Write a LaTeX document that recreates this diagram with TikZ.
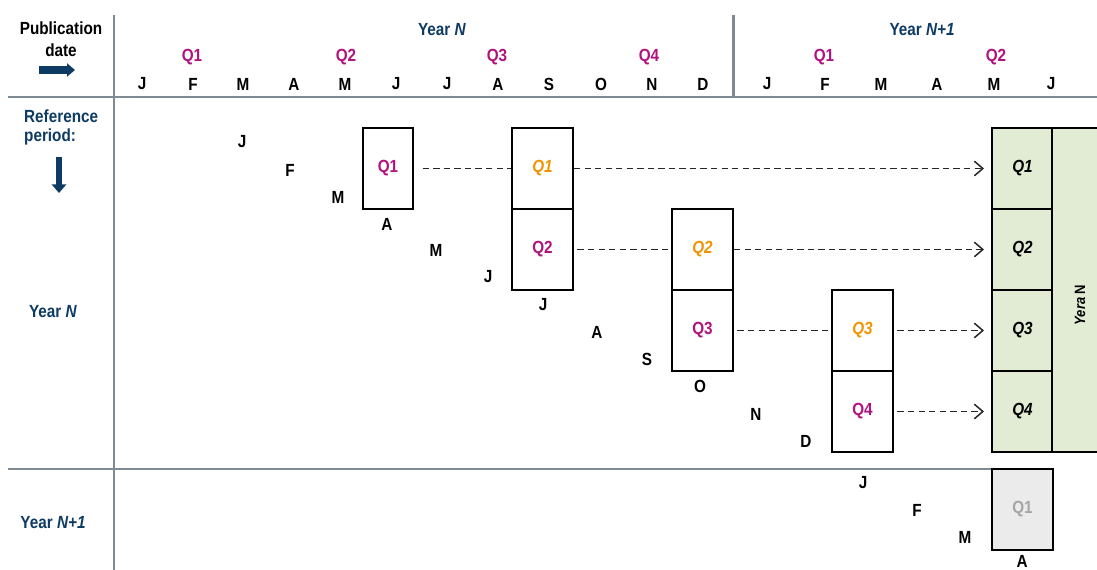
\documentclass[tikz,border=0pt]{standalone}
\usepackage{fontspec}
\setmainfont{Liberation Sans}[FakeStretch=0.87]
\usetikzlibrary{arrows.meta}
\definecolor{navy}{HTML}{0D3B63}
\definecolor{qmag}{HTML}{B0127F}
\definecolor{qorange}{HTML}{F39200}
\definecolor{cellgreen}{HTML}{E2EBD3}
\definecolor{rulegray}{HTML}{7F8A93}
\definecolor{boxgray}{HTML}{EBEBEB}
\definecolor{txtgray}{HTML}{A6A6A6}
\begin{document}
\begin{tikzpicture}[x=0.02cm, y=-0.02cm,
        every node/.style={font=\bfseries\fontsize{10}{12}\selectfont},
        rule/.style={rulegray, line width=1.7pt},
        qbox/.style={draw, line width=1.1pt, inner sep=0pt, minimum width=1.22cm, minimum height=1.62cm},
        gcell/.style={qbox, fill=cellgreen},
        conn/.style={dash pattern=on 3.6pt off 2.4pt, line width=0.85pt, black!85},
        >={Straight Barb[length=1.7mm,width=2.9mm]}]
        \useasboundingbox (0,0) rectangle (1097,570);
        % grid lines
        \draw[rule] (8,97)    -- (1097,97);
        \draw[rule] (8,469)   -- (993,469);
        \draw[rule] (114,15)  -- (114,570);
        \draw[rule] (733,15)  -- (733,97);
        % corner labels and arrows
        \node[align=center, font=\bfseries\fontsize{10}{12.5}\selectfont] (pub) at (61,39) {Publication\\date};
        \coordinate (pubA) at (39,70);
        \coordinate (pubB) at (75,70);
        \draw[navy, line width=4pt, -{Triangle[length=1.6mm,width=2.6mm]}] (pubA) -- (pubB);
        \node[align=left, anchor=west, text=navy, font=\bfseries\fontsize{10}{10.8}\selectfont] (refp) at (18,127.5) {Reference\\period:};
        \coordinate (refA) at (59,157);
        \coordinate (refB) at (59,193);
        \draw[navy, line width=3pt, -{Triangle[length=1.7mm,width=2.8mm]}] (refA) -- (refB);
        \node[text=navy] (yrN)   at (53,312) {Year \textit{N}};
        \node[text=navy] (yrN1)  at (53,523) {Year \textit{N+1}};
        % publication years and quarters
        \node[text=navy] (pubN)  at (442,30) {Year \textit{N}};
        \node[text=navy] (pubN1) at (922,30) {Year \textit{N+1}};
        \node[text=qmag] (pq1)   at (192,57)  {Q1};
        \node[text=qmag] (pq2)   at (346,57)  {Q2};
        \node[text=qmag] (pq3)   at (497,57)  {Q3};
        \node[text=qmag] (pq4)   at (649,57)  {Q4};
        \node[text=qmag] (pq5)   at (824,57)  {Q1};
        \node[text=qmag] (pq6)   at (996,57)  {Q2};
        % publication months
        \node (pm1)  at (142,84)  {J};
        \node (pm2)  at (193,84)  {F};
        \node (pm3)  at (243,84)  {M};
        \node (pm4)  at (294,84)  {A};
        \node (pm5)  at (345,84)  {M};
        \node (pm6)  at (396,84)  {J};
        \node (pm7)  at (447,84)  {J};
        \node (pm8)  at (498,84)  {A};
        \node (pm9)  at (549,84)  {S};
        \node (pm10) at (601,84)  {O};
        \node (pm11) at (652,84)  {N};
        \node (pm12) at (703,84)  {D};
        \node (pm13) at (767,84)  {J};
        \node (pm14) at (825,84)  {F};
        \node (pm15) at (881,84)  {M};
        \node (pm16) at (937,84)  {A};
        \node (pm17) at (994,84)  {M};
        \node (pm18) at (1051,84) {J};
        % reference months
        \node (rm1)  at (242,142) {J};
        \node (rm2)  at (290,170) {F};
        \node (rm3)  at (338,197) {M};
        \node (rm4)  at (387,224) {A};
        \node (rm5)  at (436,250) {M};
        \node (rm6)  at (488,277) {J};
        \node (rm7)  at (543,305) {J};
        \node (rm8)  at (597,332) {A};
        \node (rm9)  at (647,359) {S};
        \node (rm10) at (700,386) {O};
        \node (rm11) at (756,414) {N};
        \node (rm12) at (806,441) {D};
        \node (rm13) at (863,483) {J};
        \node (rm14) at (917,510) {F};
        \node (rm15) at (965,537) {M};
        \node (rm16) at (1022,561) {A};
        % quarter boxes
        \node[qbox, minimum width=1.0cm, text=qmag] (a1) at (388,168.5) {Q1};
        \node[qbox, text=qorange] (b1) at (542.5,168.5) {\itshape Q1};
        \node[qbox, text=qmag]    (b2) at (542.5,249.5) {Q2};
        \node[qbox, text=qorange] (c2) at (702.5,249.5) {\itshape Q2};
        \node[qbox, text=qmag]    (c3) at (702.5,330.5) {Q3};
        \node[qbox, text=qorange] (d3) at (862.5,330.5) {\itshape Q3};
        \node[qbox, text=qmag]    (d4) at (862.5,411.5) {Q4};
        % annual column
        \node[gcell] (g1) at (1022.5,168.5) {\itshape Q1};
        \node[gcell] (g2) at (1022.5,249.5) {\itshape Q2};
        \node[gcell] (g3) at (1022.5,330.5) {\itshape Q3};
        \node[gcell] (g4) at (1022.5,411.5) {\itshape Q4};
        \node[gcell, minimum width=1.04cm, minimum height=6.48cm] (gy) at (1078,290) {};
        \node[rotate=90, font=\bfseries\fontsize{8.5}{10}\selectfont] (yn) at (1080,305) {\itshape Yera \upshape N};
        \node[qbox, fill=boxgray, text=txtgray] (h1) at (1022.5,509.5) {Q1};
        % revisions
        \draw[conn, shorten <=5pt]               (a1.east) -- (b1.west);
        \draw[conn, ->, shorten >=4pt]           (b1.east) -- (g1.west);
        \draw[conn, shorten <=2pt]               (b2.east) -- (c2.west);
        \draw[conn, ->, shorten >=4pt]           (c2.east) -- (g2.west);
        \draw[conn, shorten <=2pt]               (c3.east) -- (d3.west);
        \draw[conn, ->, shorten <=2pt, shorten >=4pt] (d3.east) -- (g3.west);
        \draw[conn, ->, shorten <=2pt, shorten >=4pt] (d4.east) -- (g4.west);
    \end{tikzpicture}
\end{document}
